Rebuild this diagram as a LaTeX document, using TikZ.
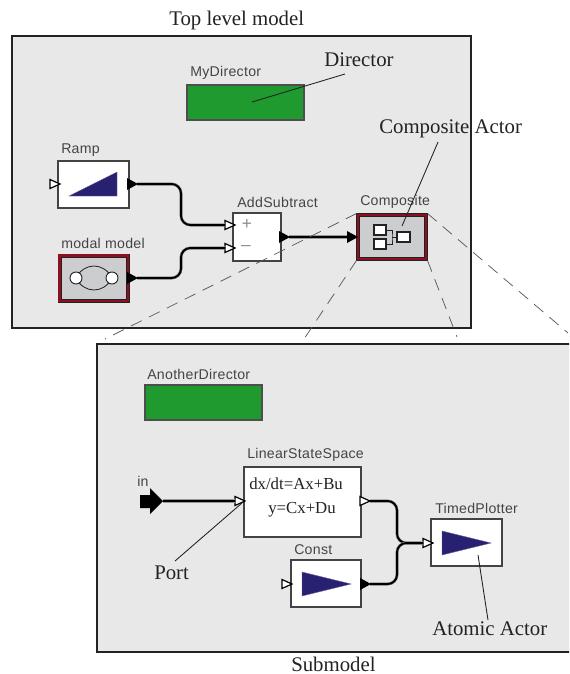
\documentclass[tikz,border=0pt]{standalone}
\usepackage{fontspec}
\setmainfont{Liberation Serif}
\newfontfamily\labelfont{Liberation Sans}[LetterSpace=2]
\usetikzlibrary{fit,calc}
\definecolor{panelgrey}{HTML}{E8E8E8}
\definecolor{inkdark}{HTML}{222222}
\definecolor{labelgrey}{HTML}{444444}
\definecolor{dirgreen}{HTML}{1E9A2E}
\definecolor{actorblue}{HTML}{282070}
\definecolor{compgrey}{HTML}{CCCDCF}
\definecolor{compred}{HTML}{8C1020}
\tikzset{
  panel/.style={draw=inkdark,fill=panelgrey,line width=1.9pt,inner sep=0pt,outer sep=0pt},
  director/.style={draw=inkdark!80,fill=dirgreen,line width=.8pt,inner sep=0pt,outer sep=0pt},
  actorbox/.style={draw=inkdark!85,fill=white,line width=.8pt,inner sep=0pt,outer sep=0pt},
  compbox/.style={draw=inkdark,fill=compgrey,line width=.5pt,inner sep=0pt,outer sep=0pt},
  compred/.style={draw=compred,line width=2pt},
  compinner/.style={draw=inkdark,line width=.45pt},
  lbl/.style={anchor=base west,inner sep=0pt,text=labelgrey,font=\labelfont\fontsize{10.6}{12}\selectfont},
  ann/.style={anchor=base west,inner sep=0pt,text=inkdark,font=\fontsize{15.6}{18}\selectfont},
  eqn/.style={anchor=base west,inner sep=0pt,text=inkdark,font=\fontsize{12.6}{14}\selectfont},
  sign/.style={inner sep=0pt,text=black!45,font=\labelfont\fontsize{13}{14}\selectfont},
  wire/.style={draw=black,line width=1.5pt,rounded corners=7pt,preaction={draw=black!40,line width=2.3pt}},
  leader/.style={draw=inkdark,line width=.65pt},
  zoomline/.style={draw=black!65,line width=.55pt,dash pattern=on 9pt off 6pt},
  icon/.style={draw=inkdark,fill=white,line width=1pt},
  iconline/.style={draw=inkdark,line width=.7pt},
  glyph/.style={fill=actorblue,draw=actorblue!70,line width=.3pt},
}
\newcommand{\oport}[3]{\coordinate (#1) at (#2,#3);\coordinate (#1t) at ($(#2,#3)+(10,0)$);
  \draw[fill=white,draw=black,line width=.9pt] (#1)++(0,-4.5) -- ++(10,4.5) -- ++(-10,4.5) -- cycle;}
\newcommand{\bport}[3]{\coordinate (#1) at (#2,#3);\coordinate (#1t) at ($(#2,#3)+(10,0)$);
  \fill[black] (#1)++(0,-6) -- ++(11,6) -- ++(-11,6) -- cycle;}
\begin{document}
\begin{tikzpicture}[x=.75pt,y=-.75pt]
\useasboundingbox (0,0) rectangle (569,674);
\clip (0,0) rectangle (569,674);
% panels
\node[panel,fit={(12,36)(471,328)}] (top) {};
\node[panel,fit={(97,344)(585,652)}] (sub) {};
% top level blocks
\node[director,fit={(187,85)(304,120)}] (mydir) {};
\node[actorbox,fit={(58,161)(129,208)}] (ramp) {};
\node[actorbox,fit={(233,213)(281,261)}] (add) {};
\node[compbox,fit={(58,254)(129,302)}] (modal) {};
\draw[compred] (59.5,255.5) rectangle (127.5,300.5);
\draw[compinner] (61,257) rectangle (126,299);
\node[compbox,fit={(356.5,213.5)(427.5,260.5)}] (comp) {};
\draw[compred] (358,215) rectangle (426,259);
\draw[compinner] (359.5,216.5) rectangle (424.5,257.5);
% submodel blocks
\node[director,fit={(145,385)(262,420)}] (anodir) {};
\node[actorbox,fit={(244,467)(361,537)}] (lss) {};
\node[actorbox,fit={(291,560)(361,607)}] (const) {};
\node[actorbox,fit={(431,519)(502,566)}] (plot) {};
% glyphs
\draw[glyph] (69,196) -- (117,172) -- (117,196) -- cycle;
\draw[glyph] (302,572) -- (351,584) -- (302,596) -- cycle;
\draw[glyph] (442,531) -- (491,543) -- (442,555) -- cycle;
% modal icon
\draw[inkdark,line width=.6pt] (76,278) .. controls (84,262) and (104,262) .. (112,278) .. controls (104,294) and (84,294) .. (76,278);
\node[circle,icon,line width=.7pt,minimum size=9pt,inner sep=0pt] (mstate1) at (76,278) {};
\node[circle,icon,line width=.7pt,minimum size=9pt,inner sep=0pt] (mstate2) at (112,278) {};
% composite icon
\node[icon,inner sep=0pt,fit={(374,225)(386,235)}] (ci1) {};
\node[icon,inner sep=0pt,fit={(374,239)(386,249)}] (ci2) {};
\node[icon,inner sep=0pt,fit={(397,232)(410,242)}] (ci3) {};
\draw[iconline] (ci1.east) -| (392,237) |- (ci2.east);
\draw[iconline] (392,237) -- (ci3.west);
% ports
\oport{rampIn}{50}{184}
\bport{rampOut}{127}{184}
\bport{modalOut}{127}{278}
\oport{addP}{225}{225}
\oport{addM}{225}{248}
\bport{addOut}{279}{237}
\bport{compIn}{347}{237}
\oport{lssIn}{235}{501}
\oport{lssOut}{360}{501}
\oport{constIn}{282}{584}
\bport{constOut}{360}{584}
\oport{plotIn}{423}{543}
\coordinate (subIn) at (163,501);
\fill[black] (140,495) -- (150,495) -- (150,488) -- (163,501) -- (150,514) -- (150,508) -- (140,508) -- cycle;
% wires
\draw[wire] (rampOutt) -| (181,225) -- (addP);
\draw[wire] (modalOutt) -| (181,248) -- (addM);
\draw[wire] (addOutt) -- (compIn);
\draw[wire] (subIn) -- (lssIn);
\draw[wire] (lssOutt) -| (397,543) -- (plotIn);
\draw[wire] (constOutt) -| (397,543) -- (plotIn);
% signs
\node[sign] (plus) at (247,224) {+};
\node[sign] (minus) at (246,248) {–};
% equations
\node[eqn] (eq1) at (249,489) {dx/dt=Ax+Bu};
\node[eqn] (eq2) at (268,513) {y=Cx+Du};
% labels
\node[lbl] (lmydir) at (190,77) {MyDirector};
\node[lbl] (lano) at (147,379) {AnotherDirector};
\node[lbl] (lramp) at (61,153) {Ramp};
\node[lbl] (lmodal) at (61,248) {modal model};
\node[lbl] (ladd) at (237,207) {AddSubtract};
\node[lbl] (lcomp) at (360,205) {Composite};
\node[lbl] (llss) at (247,458) {LinearStateSpace};
\node[lbl] (lconst) at (294,554) {Const};
\node[lbl] (lplot) at (435,513) {TimedPlotter};
\node[lbl] (lin) at (137,486) {in};
% zoom lines
\draw[zoomline] (comp.north west) -- (105,339);
\draw[zoomline] (comp.south west) -- (302,342);
\draw[zoomline] (comp.north east) -- (568,333);
\draw[zoomline] (comp.south east) -- (457,337);
% annotations
\node[ann] (atop) at (169,26) {Top level model};
\node[ann] (adir) at (324,67) {Director};
\node[ann] (acomp) at (379,133) {Composite Actor};
\node[ann] (aport) at (154,579) {Port};
\node[ann] (aatom) at (432,635) {Atomic Actor};
\node[ann] (asub) at (291,671) {Submodel};
\coordinate (tdir) at (252,102);
\coordinate (tcomp) at (402,226);
\coordinate (tport) at (242,503);
\coordinate (tatom) at (478,555);
\draw[leader] (345,74) -- (tdir);
\draw[leader] (438,142) -- (tcomp);
\draw[leader] (175,561) -- (tport);
\draw[leader] (488,620) -- (tatom);
\end{tikzpicture}
\end{document}
